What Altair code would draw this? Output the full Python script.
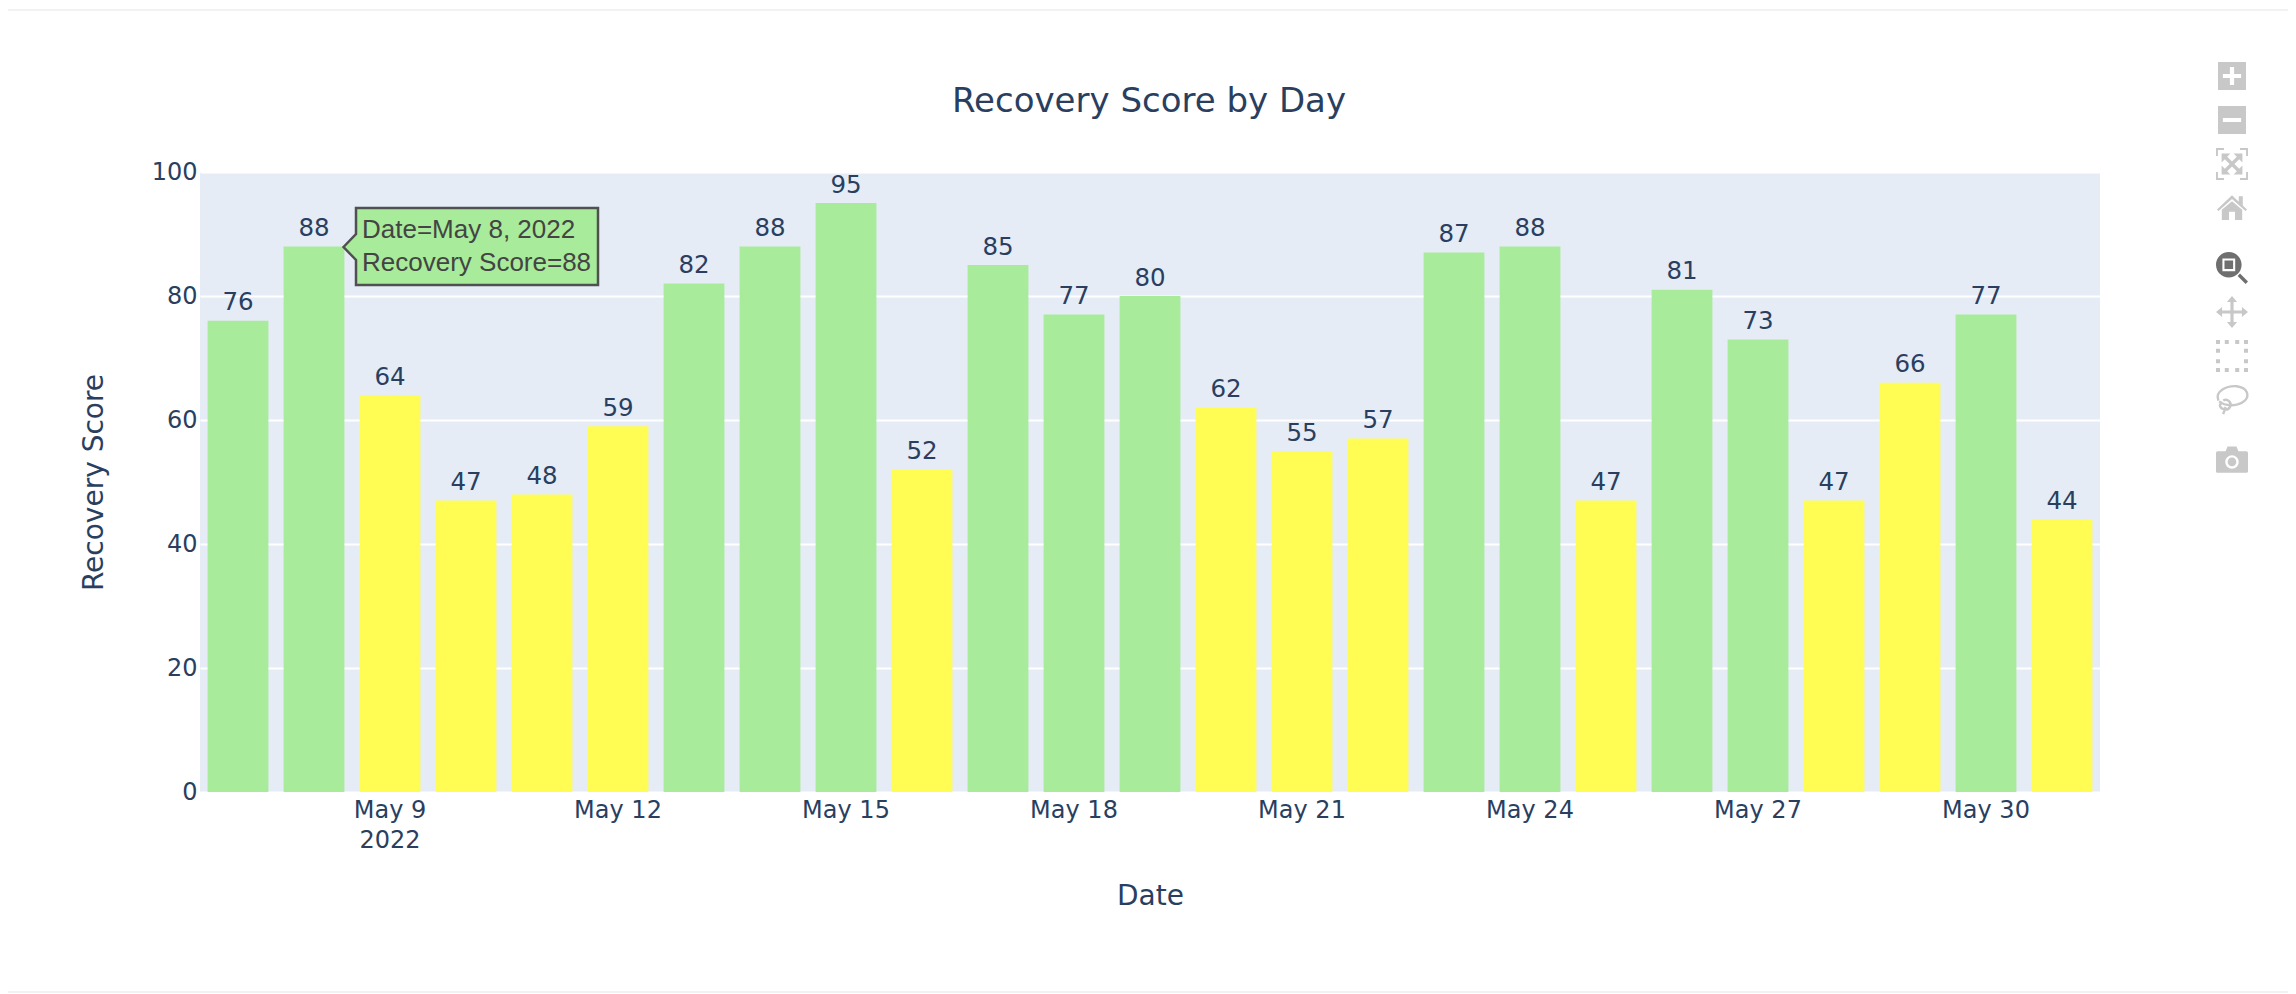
import altair as alt
import pandas as pd

days = [f"May {d}" for d in range(7, 32)]
scores = [76, 88, 64, 47, 48, 59, 82, 88, 95, 52, 85, 77, 80, 62, 55, 57, 87, 88, 47, 81, 73, 47, 66, 77, 44]
statuses = ["G", "G", "Y", "Y", "Y", "Y", "G", "G", "G", "Y", "G", "G", "G", "Y", "Y", "Y", "G", "G", "Y", "G", "G", "Y", "Y", "G", "Y"]
tick_days = ["May 9", "May 12", "May 15", "May 18", "May 21", "May 24", "May 27", "May 30"]
y_ticks = [0, 20, 40, 60, 80, 100]

INK = "#2a3f5f"
GREEN = "#a8eb9a"
YELLOW = "#fffd54"
FONT = "DejaVu Sans"
ICON = "#c8c8c8"
LEFT = 200
TOP = 172

df = pd.DataFrame({"Date": days, "Score": scores, "Status": statuses})

x_enc = alt.X(
    "Date:O", sort=days,
    scale=alt.Scale(paddingInner=0.2, paddingOuter=0.1),
    axis=alt.Axis(
        title="Date", values=tick_days, labelAngle=0, ticks=False, domain=False, grid=False,
        labelExpr="datum.value == 'May 9' ? ['May 9', '2022'] : datum.value",
        labelFont=FONT, labelFontSize=24, labelColor=INK, labelPadding=6.5, labelLineHeight=30,
        titleFont=FONT, titleFontSize=28, titleColor=INK, titleFontWeight="normal", titleY=90,
        labelBaseline="top",
    ),
)
y_enc = alt.Y(
    "Score:Q", scale=alt.Scale(domain=[0, 100], nice=False),
    axis=alt.Axis(
        title="Recovery Score", values=y_ticks, ticks=False, domain=False,
        grid=True, gridColor="white", gridWidth=2,
        labelFont=FONT, labelFontSize=24, labelColor=INK, labelPadding=3,
        titleFont=FONT, titleFontSize=28, titleColor=INK, titleFontWeight="normal", titleX=-92,
    ),
)

bars = alt.Chart(df).mark_bar().encode(
    x=x_enc, y=y_enc,
    color=alt.Color("Status:N", scale=alt.Scale(domain=["G", "Y"], range=[GREEN, YELLOW]), legend=None),
)
labels = alt.Chart(df).mark_text(
    baseline="bottom", dy=-5.5, font=FONT, fontSize=24.5, color=INK
).encode(x=alt.X("Date:O", sort=days), y=alt.Y("Score:Q"), text="Score:Q")

blank = alt.Data(values=[{"a": 1}])


def page_x(x):
    return x - LEFT


def page_y(y):
    return y - TOP


def glyph(px, py, path, scale=16, color=ICON, filled=True, stroke_width=0):
    kw = dict(shape=path, size=(2 * scale) ** 2, opacity=1, filled=filled, color=color, clip=False)
    if not filled:
        kw["strokeWidth"] = stroke_width
    return alt.Chart(blank).mark_point(**kw).encode(x=alt.value(page_x(px)), y=alt.value(page_y(py)))


def text(px, py, s, **kw):
    return alt.Chart(blank).mark_text(text=s, **kw).encode(x=alt.value(page_x(px)), y=alt.value(page_y(py)))


title = text(1149, 101.5, "Recovery Score by Day", font=FONT, fontSize=34, color=INK, align="center", baseline="middle")

callout = alt.Chart(blank).mark_point(
    shape="M0 0 L12.5 -13 V-39 H254.5 V38 H12.5 V13 Z",
    size=4, filled=False, fill=GREEN, fillOpacity=1, stroke="#505050", strokeWidth=2.5, opacity=1,
).encode(x=alt.value(page_x(343.5)), y=alt.value(page_y(247)))
tip_font = dict(font="Liberation Sans", fontSize=26, color="#444444", align="left", baseline="middle")
tip1 = text(362, 230, "Date=May 8, 2022", **tip_font)
tip2 = text(362, 263, "Recovery Score=88", **tip_font)

plus = "M-1 -1H1V1H-1Z M-.15 -.65V-.15H-.65V.15H-.15V.65H.15V.15H.65V-.15H.15V-.65Z"
minus = "M-1 -1H1V1H-1Z M-.65 -.15V.15H.65V-.15Z"
autoscale = (
    "M-1 -1H-.5V-.88H-.88V-.5H-1Z M.5 -1H1V-.5H.88V-.88H.5Z "
    "M1 .5V1H.5V.88H.88V.5Z M-.5 1H-1V.5H-.88V.88H-.5Z "
    "M-.65 -.65H-.1L-.3 -.45L0 -.15L.3 -.45L.1 -.65H.65V-.1L.45 -.3L.15 0L.45 .3L.65 .1V.65H.1L.3 .45L0 .15L-.3 .45L-.1 .65H-.65V.1L-.45 .3L-.15 0L-.45 -.3L-.65 -.1Z"
)
home = "M0 -.85L.45 -.42V-.78H.72V-.16L1 .1L.9 .2L0 -.6L-.9 .2L-1 .1Z M-.68 .12L0 -.45L.68 .12V.8H.2V.25H-.2V.8H-.68Z"
zoom_icon = (
    "M-.2 -1A.8 .8 0 1 1 -.2 .6A.8 .8 0 1 1 -.2 -1Z "
    "M-.6 -.6V.2H.2V-.6Z M-.47 -.47H.07V.07H-.47Z "
    "M.35 .5L.5 .35L1 .85L.85 1Z"
)
pan = (
    "M0 -1L.32 -.62H.1V-.1H.62V-.32L1 0L.62 .32V.1H.1V.62H.32L0 1L-.32 .62H-.1V.1H-.62V.32L-1 0L-.62 -.32V-.1H-.1V-.62H-.32Z"
)
select = " ".join(
    f"M{x} {y}H{x + .25}V{y + .25}H{x}Z"
    for x, y in [(-1, -1), (-.45, -1), (.2, -1), (.75, -1), (-1, -.45), (.75, -.45),
                 (-1, .2), (.75, .2), (-1, .75), (-.45, .75), (.2, .75), (.75, .75)]
)
lasso = "M-.85 .1C-1.1 -.5 -.3 -.85 .3 -.8C1 -.7 1.1 -.2 .8 .1C.4 .45 -.4 .5 -.8 .15 M-.55 .1A.3 .3 0 1 1 -.45 .65C-.8 .6 -.85 .3 -.6 .25 M-.4 .5L-.55 .95"
camera = "M-.9 -.55H-.4L-.28 -.85H.28L.4 -.55H.9A.1 .1 0 0 1 1 -.45V.7A.1 .1 0 0 1 .9 .8H-.9A.1 .1 0 0 1 -1 .7V-.45A.1 .1 0 0 1 -.9 -.55Z M0 -.3A.42 .42 0 1 0 0 .54A.42 .42 0 1 0 0 -.3Z M0 -.15A.27 .27 0 1 1 0 .39A.27 .27 0 1 1 0 -.15Z"

icons = [
    glyph(2232, 76, plus, scale=14),
    glyph(2232, 120, minus, scale=14),
    glyph(2232, 164, autoscale),
    glyph(2232, 208, home, scale=15),
    glyph(2232, 268, zoom_icon, color="#6f6f6f"),
    glyph(2232, 312, pan),
    glyph(2232, 356, select),
    glyph(2232, 399, lasso, filled=False, stroke_width=2.4),
    glyph(2232, 460, camera),
]

hairlines = [
    alt.Chart(blank).mark_rule(color="#f2f2f2", strokeWidth=2, clip=False).encode(
        x=alt.value(-LEFT), x2=alt.value(2296), y=alt.value(page_y(yy)))
    for yy in (10, 992)
]

chart = alt.layer(bars, labels, *hairlines, title, callout, tip1, tip2, *icons).properties(
    width=1900, height=620,
    autosize=alt.AutoSizeParams(type="none"),
    padding={"left": 192, "top": 164, "right": 188, "bottom": 202},
).configure_view(fill="#e5ecf6", stroke=None)

chart.save("out.html", embed_options={"renderer": "svg", "actions": False})
